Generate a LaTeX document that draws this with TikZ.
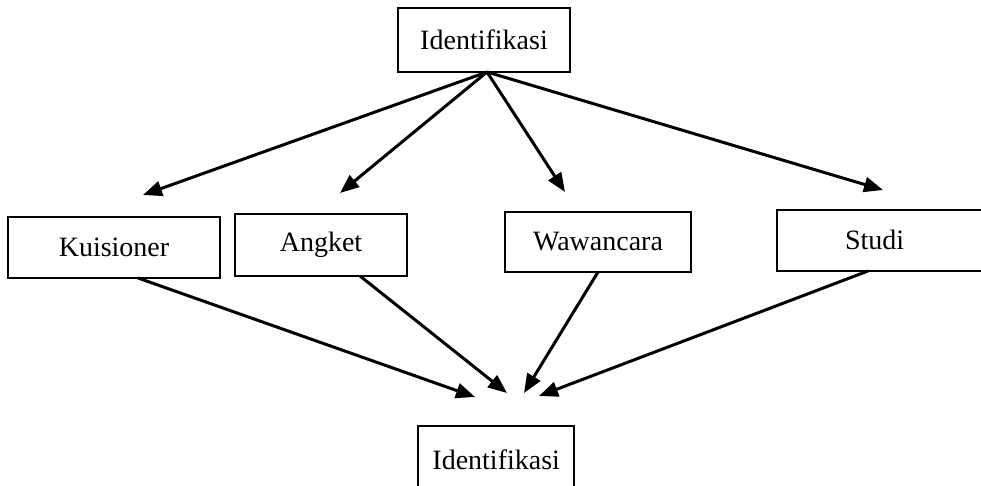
\documentclass[tikz,border=0pt]{standalone}
\usepackage{fontspec}
\setmainfont{Liberation Serif}
\usetikzlibrary{arrows.meta}
\begin{document}
\begin{tikzpicture}[x=1pt,y=-1pt,
  box/.style={draw=black,line width=2.4pt,inner sep=0pt,font=\fontsize{28}{32}\selectfont},
  arr/.style={line width=3pt,-{Triangle[length=19pt,width=15pt]}}]
\useasboundingbox (0,0) rectangle (981,486);
\begin{scope}
\clip (0,0) rectangle (981,486);
\node[box,minimum width=172pt,minimum height=64pt] (top) at (484,40) {Identifikasi};
\node[box,minimum width=212pt,minimum height=61pt] (kui) at (114,247.5) {Kuisioner};
\node[box,minimum width=172pt,minimum height=62pt] (ang) at (321,245) {\raisebox{3pt}{Angket}};
\node[box,minimum width=186pt,minimum height=60pt] (waw) at (598,242) {Wawancara};
\node[box,minimum width=240pt,minimum height=61pt,text width=200pt,align=left] (stu) at (897,240.5) {\hspace*{48pt}\raisebox{2pt}{Studi}};
\node[box,minimum width=156pt,minimum height=68pt,anchor=north west] (bot) at (417,425) {\raisebox{-3pt}{Identifikasi}};
\end{scope}
\coordinate (t1) at (143,195);
\coordinate (t2) at (340,193);
\coordinate (t3) at (565,192);
\coordinate (t4) at (883,190);
\coordinate (b1) at (475,397);
\coordinate (b2) at (507,393);
\coordinate (b3) at (524,393);
\coordinate (b4) at (539,396);
\coordinate (k0) at (138,278);
\coordinate (a0) at (360,276);
\coordinate (w0) at (598,272);
\coordinate (s0) at (868,271);
\coordinate (apex) at (487,72);
\foreach \t in {t1,t2,t3,t4} \draw[arr] (apex) -- (\t);
\draw[arr] (k0) -- (b1);
\draw[arr] (a0) -- (b2);
\draw[arr] (w0) -- (b3);
\draw[arr] (s0) -- (b4);
\end{tikzpicture}
\end{document}
